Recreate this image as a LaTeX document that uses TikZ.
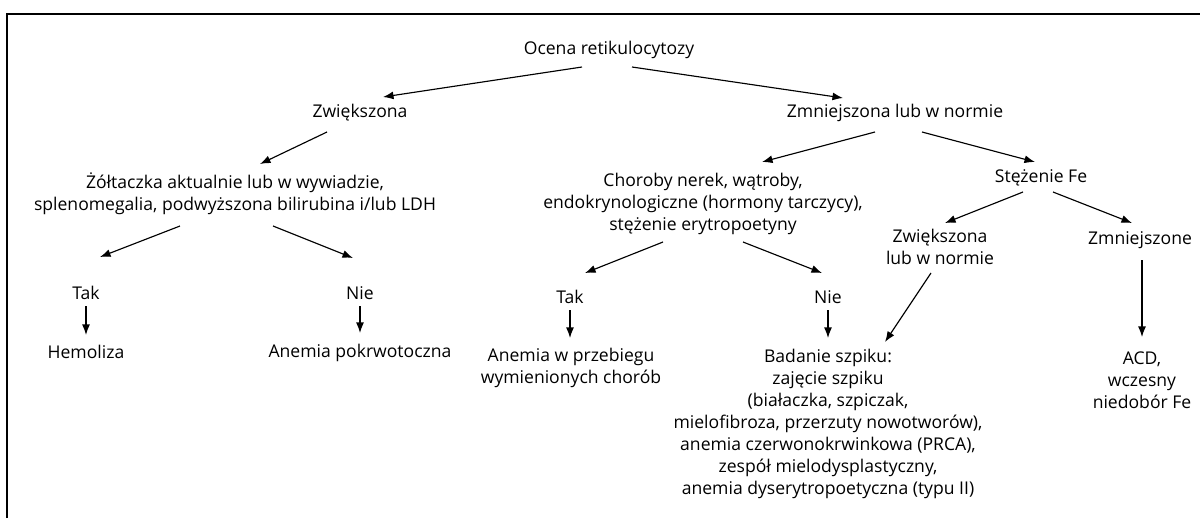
\documentclass[tikz,border=0pt]{standalone}
\usepackage{fontspec}
\setmainfont{Open Sans}
\usetikzlibrary{arrows.meta,calc}

\begin{document}
\begin{tikzpicture}[x=0.02cm,y=-0.02cm,
    txt/.style={align=center,inner sep=0pt,font=\fontsize{10}{12.6}\selectfont},
    arr/.style={-{Latex[length=6pt,width=4.5pt]},line width=0.65pt}]
    \useasboundingbox (0,0) rectangle (1200,518);
    % frame
    \draw[line width=0.9pt] (7,518) -- (7,14) -- (1200,14);

    % nodes
    \node[txt] (ocena) at (609,50) {Ocena retikulocytozy};
    \node[txt] (zw) at (360,113) {Zwiększona};
    \node[txt] (zm) at (895,113) {Zmniejszona lub w normie};
    \node[txt] (zolt) at (235,194) {Żółtaczka aktualnie lub w wywiadzie,\\ splenomegalia, podwyższona bilirubina i/lub LDH};
    \node[txt] (takA) at (86,293) {Tak};
    \node[txt] (nieA) at (360,293) {Nie};
    \node[txt] (hemo) at (86,352) {Hemoliza};
    \node[txt] (pokrw) at (360,353) {Anemia pokrwotoczna};
    \node[txt] (chor) at (703,204) {Choroby nerek, wątroby,\\ endokrynologiczne (hormony tarczycy),\\ stężenie erytropoetyny};
    \node[txt] (fe) at (1041,178) {Stężenie Fe};
    \node[txt] (takB) at (570,297) {Tak};
    \node[txt] (nieB) at (828,297) {Nie};
    \node[txt] (przeb) at (571,368) {Anemia w przebiegu\\ wymienionych chorób};
    \node[txt] (szpik) at (828,424) {Badanie szpiku:\\ zajęcie szpiku\\ (białaczka, szpiczak,\\ mielofibroza, przerzuty nowotworów),\\ anemia czerwonokrwinkowa (PRCA),\\ zespół mielodysplastyczny,\\ anemia dyserytropoetyczna (typu II)};
    \node[txt] (zwFe) at (940,247) {Zwiększona\\ lub w normie};
    \node[txt] (zmFe) at (1140,240) {Zmniejszone};
    \node[txt] (acd) at (1142,380) {ACD,\\ wczesny\\ niedobór Fe};

    % slanted arrows
    \draw[arr] ($(ocena)+(-27,17)$) -- ($(zw)+(23,-16)$);
    \draw[arr] ($(ocena)+(23,17)$) -- ($(zm)+(-52,-15)$);
    \draw[arr] ($(zw)+(-33,19)$) -- ($(zolt)+(25,-30)$);
    \draw[arr] ($(zm)+(-20,19)$) -- ($(chor)+(59,-42)$);
    \draw[arr] ($(zm)+(27,19)$) -- ($(fe)+(-6,-16)$);
    \draw[arr] ($(zolt)+(-55,32)$) -- ($(takA)+(14,-36)$);
    \draw[arr] ($(zolt)+(38,32)$) -- ($(nieA)+(-7,-35)$);
    \draw[arr] ($(chor)+(-40,38)$) -- ($(takB)+(15,-24)$);
    \draw[arr] ($(chor)+(40,38)$) -- ($(nieB)+(-6,-24)$);
    \draw[arr] ($(fe)+(-18,14)$) -- ($(zwFe)+(5,-24)$);
    \draw[arr] ($(fe)+(12,14)$) -- ($(zmFe)+(-8,-17)$);
    \draw[arr] ($(zwFe)+(-9,26)$) -- ($(szpik)+(57,-82)$);

    % short vertical arrows
    \foreach \a/\b/\e in {takA/hemo/-17,nieA/pokrw/-20,takB/przeb/-30,nieB/szpik/-86}{
        \draw[arr] ($(\a)+(0,13)$) -- ($(\a |- \b)+(0,\e)$);
    }
    \draw[arr] ($(zmFe)+(2,20)$) -- ($(acd)+(0,-43)$);
\end{tikzpicture}
\end{document}
